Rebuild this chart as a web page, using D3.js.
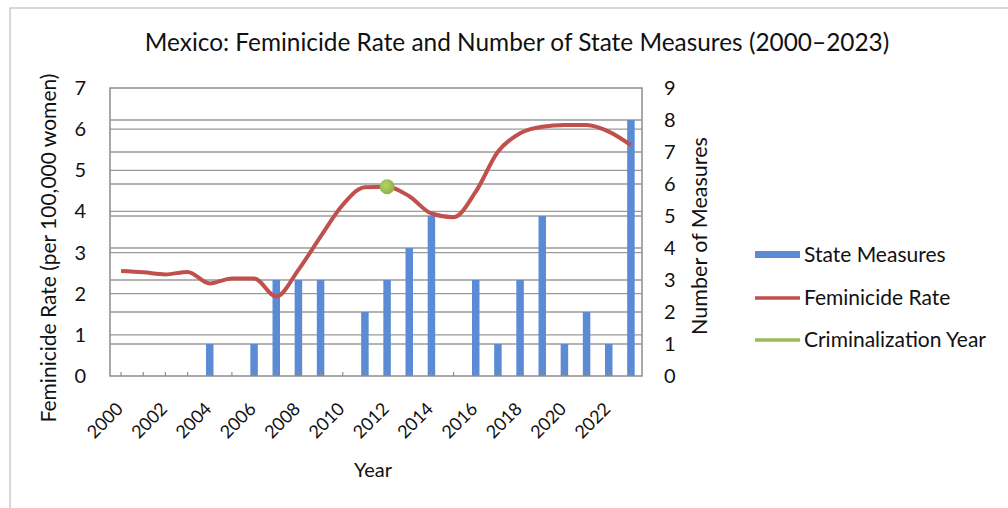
<!DOCTYPE html>
<html>
<head>
<meta charset="utf-8">
<script src="https://cdn.jsdelivr.net/npm/d3@7"></script>
<style>
  body { margin: 0; background: #fff; }
  svg { font-family: "Lato", "Open Sans", sans-serif; }
</style>
</head>
<body>
<svg width="1008" height="508"></svg>
<script>
// Data
var years = d3.range(2000, 2024);
var measures = [0, 0, 0, 0, 1, 0, 1, 3, 3, 3, 0, 2, 3, 4, 5, 0, 3, 1, 3, 5, 1, 2, 1, 8];
var rate = [2.55, 2.52, 2.47, 2.53, 2.25, 2.37, 2.37, 1.93, 2.58, 3.39, 4.16, 4.59,
            4.6, 4.37, 3.95, 3.86, 4.48, 5.45, 5.9, 6.06, 6.1, 6.1, 5.94, 5.61];
var critYear = 2012;
var leftTicks = [0, 1, 2, 3, 4, 5, 6, 7];
var rightTicks = [0, 1, 2, 3, 4, 5, 6, 7, 8, 9];
var yearLabels = years.filter(function(y) { return y % 2 === 0; });

var svg = d3.select("svg");

// outer frame
svg.append("rect")
    .attr("x", 10).attr("y", 8).attr("width", 1010).attr("height", 520)
    .attr("fill", "none").attr("stroke", "#bdbdbd").attr("stroke-width", 1.2);

var plot = { left: 110, right: 642, top: 88, bottom: 376 };

var x = d3.scaleBand()
    .domain(years)
    .range([plot.left, plot.right]);

var yL = d3.scaleLinear().domain([0, 7]).range([plot.bottom, plot.top]);
var yR = d3.scaleLinear().domain([0, 9]).range([plot.bottom, plot.top]);

var g = svg.append("g");

// gridlines for both axes
g.selectAll(".gl").data(leftTicks.slice(1, -1)).enter().append("line")
    .attr("x1", plot.left).attr("x2", plot.right)
    .attr("y1", d => yL(d)).attr("y2", d => yL(d))
    .attr("stroke", "#9a9a9a").attr("stroke-width", 1.3);
g.selectAll(".gr").data(rightTicks.slice(1, -1)).enter().append("line")
    .attr("x1", plot.left).attr("x2", plot.right)
    .attr("y1", d => yR(d)).attr("y2", d => yR(d))
    .attr("stroke", "#9a9a9a").attr("stroke-width", 1.3);

// bars
var barW = 7.5;
g.selectAll(".bar").data(years).enter().append("rect")
    .attr("x", (d, i) => x(d) + x.bandwidth() / 2 - barW / 2)
    .attr("width", barW)
    .attr("y", (d, i) => yR(measures[i]))
    .attr("height", (d, i) => plot.bottom - yR(measures[i]))
    .attr("fill", "#5b8bd5");

// plot border
g.append("rect")
    .attr("x", plot.left).attr("y", plot.top)
    .attr("width", plot.right - plot.left).attr("height", plot.bottom - plot.top)
    .attr("fill", "none").attr("stroke", "#8c8c8c").attr("stroke-width", 1.5);

// bottom tick marks
g.selectAll(".tk").data(years).enter().append("line")
    .attr("x1", d => x(d) + x.bandwidth() / 2).attr("x2", d => x(d) + x.bandwidth() / 2)
    .attr("y1", plot.bottom).attr("y2", plot.bottom - 4)
    .attr("stroke", "#8c8c8c").attr("stroke-width", 1.2);

// feminicide rate line
var line = d3.line()
    .x((d, i) => x(years[i]) + x.bandwidth() / 2)
    .y(d => yL(d))
    .curve(d3.curveMonotoneX);
g.append("path").datum(rate)
    .attr("d", line)
    .attr("fill", "none").attr("stroke", "#c0504d")
    .attr("stroke-width", 4).attr("stroke-linejoin", "round");

// criminalization point
var grad = svg.append("defs").append("radialGradient").attr("id", "gdot")
    .attr("cx", "40%").attr("cy", "40%").attr("r", "60%");
grad.append("stop").attr("offset", "0%").attr("stop-color", "#b5d46a");
grad.append("stop").attr("offset", "100%").attr("stop-color", "#8fb244");
var ci = years.indexOf(critYear);
g.append("circle")
    .attr("cx", x(critYear) + x.bandwidth() / 2)
    .attr("cy", yL(rate[ci]))
    .attr("r", 7.5)
    .attr("fill", "url(#gdot)");

// left axis labels
svg.selectAll(".ltl").data(leftTicks).enter().append("text")
    .attr("x", 86).attr("y", d => yL(d) + 7)
    .attr("text-anchor", "end")
    .attr("font-size", 20).attr("fill", "#111")
    .text(d => d);

// right axis labels
svg.selectAll(".rtl").data(rightTicks).enter().append("text")
    .attr("x", 664).attr("y", d => yR(d) + 7)
    .attr("font-size", 20).attr("fill", "#111")
    .text(d => d);

// year labels
svg.selectAll(".yl").data(yearLabels).enter().append("text")
    .attr("transform", d => "translate(" + (x(d) + x.bandwidth() / 2 + 3) + "," + 410 + ") rotate(-45)")
    .attr("text-anchor", "end")
    .attr("font-size", 18).attr("fill", "#111")
    .text(d => d);

// titles
svg.append("text")
    .attr("x", 517).attr("y", 51)
    .attr("text-anchor", "middle")
    .attr("font-size", 24.4).attr("fill", "#111")
    .text("Mexico: Feminicide Rate and Number of State Measures (2000\u20132023)");

svg.append("text")
    .attr("x", 373).attr("y", 477)
    .attr("text-anchor", "middle")
    .attr("font-size", 20).attr("fill", "#111")
    .text("Year");

svg.append("text")
    .attr("transform", "translate(56,248) rotate(-90)")
    .attr("text-anchor", "middle")
    .attr("font-size", 21).attr("fill", "#111")
    .text("Feminicide Rate (per 100,000 women)");

svg.append("text")
    .attr("transform", "translate(707,236) rotate(-90)")
    .attr("text-anchor", "middle")
    .attr("font-size", 21.5).attr("fill", "#111")
    .text("Number of Measures");

// legend
var legend = svg.append("g");
legend.append("rect").attr("x", 755).attr("y", 251).attr("width", 45).attr("height", 7)
    .attr("fill", "#5b8bd5");
legend.append("line").attr("x1", 755).attr("x2", 800).attr("y1", 298).attr("y2", 298)
    .attr("stroke", "#c0504d").attr("stroke-width", 3.5);
legend.append("line").attr("x1", 755).attr("x2", 800).attr("y1", 340).attr("y2", 340)
    .attr("stroke", "#9bbb59").attr("stroke-width", 3.5);
var legendLabels = ["State Measures", "Feminicide Rate", "Criminalization Year"];
legend.selectAll(".lt").data(legendLabels).enter().append("text")
    .attr("x", 804).attr("y", (d, i) => [262, 305, 347][i])
    .attr("font-size", 21).attr("fill", "#111")
    .text(d => d);
</script>
</body>
</html>
